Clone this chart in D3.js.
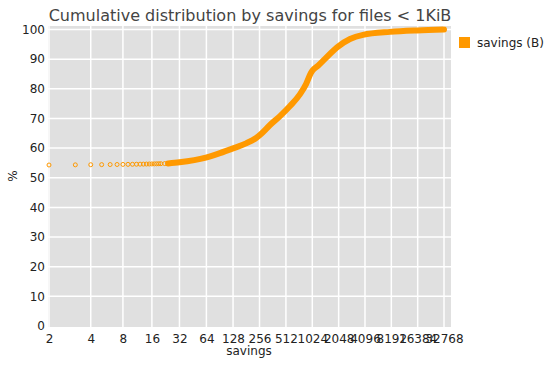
<!DOCTYPE html>
<html lang="en">
<head>
  <meta charset="UTF-8">
  <title>Cumulative distribution by savings</title>
  <style>
    body { margin: 0; background: #fff; }
    text { font-family: "DejaVu Sans", sans-serif; }
    .axis text { font-size: 12px; fill: #222; font-family: "DejaVu Sans", sans-serif; }
  </style>
</head>
<body>
  <div id="chart"></div>
  <script src="https://d3js.org/d3.v7.min.js"></script>
  <script>
    // Data
    // individual points at small savings (drawn as open circles)
    const sparseSavings = [2, 3, 4, 5, 6, 7, 8, 9, 10, 11, 12, 13, 14, 15, 16, 17, 18, 19, 20, 22, 24];
    const sparsePct = [54.3, 54.35, 54.4, 54.42, 54.45, 54.47, 54.5, 54.52, 54.54, 54.56, 54.58, 54.6, 54.62, 54.64, 54.66, 54.68, 54.7, 54.72, 54.74, 54.77, 54.8];
    // dense part where the circles merge into a band
    const curveSavings = [24, 32, 63, 91, 128, 180, 234, 274, 337, 438, 570, 742, 869, 990, 1030, 1190, 1430, 1962, 2763, 3889, 7918, 16130, 32768];
    const curvePct = [54.8, 55.2, 56.8, 58.3, 59.9, 61.6, 63.4, 65.1, 67.8, 70.8, 74.2, 78.2, 81.6, 85.4, 86.2, 87.8, 90.1, 94.0, 96.8, 98.2, 99.2, 99.7, 100];
    const xTicks = [2, 4, 8, 16, 32, 64, 128, 256, 512, 1024, 2048, 4096, 8192, 16384, 32768];
    const yTicks = [0, 10, 20, 30, 40, 50, 60, 70, 80, 90, 100];

    const W = 558, H = 365;
    const orange = "#ff9900";

    const svg = d3.select("#chart").append("svg")
      .attr("width", W).attr("height", H);

    // log scale of (savings - 1)
    const x = d3.scaleLog().domain([1, 32767]).range([49, 444]);
    const xPos = s => x(s - 1);
    const y = d3.scaleLinear().domain([0, 100]).range([326, 29.5]);

    // panel
    svg.append("rect")
      .attr("x", 48).attr("y", 26)
      .attr("width", 403).attr("height", 301)
      .attr("fill", "#e0e0e0");

    // grid
    svg.append("g").selectAll("line")
      .data(xTicks).join("line")
      .attr("x1", d => xPos(d)).attr("x2", d => xPos(d))
      .attr("y1", 26).attr("y2", 327)
      .attr("stroke", "#fff").attr("stroke-width", 1.5);
    svg.append("g").selectAll("line")
      .data(yTicks.slice(1)).join("line")
      .attr("x1", 48).attr("x2", 451)
      .attr("y1", d => y(d)).attr("y2", d => y(d))
      .attr("stroke", "#fff").attr("stroke-width", 1.5);

    // axes
    const gx = svg.append("g")
      .attr("class", "axis")
      .attr("transform", "translate(0,331)")
      .call(d3.axisBottom(x)
        .tickValues(xTicks.map(t => t - 1))
        .tickFormat(d => d + 1)
        .tickSize(0).tickPadding(3.5));
    gx.select(".domain").remove();

    const gy = svg.append("g")
      .attr("class", "axis")
      .attr("transform", "translate(45,0)")
      .call(d3.axisLeft(y).tickValues(yTicks).tickSize(0).tickPadding(0));
    gy.select(".domain").remove();
    svg.selectAll(".axis").attr("font-family", null).attr("font-size", null);

    // axis titles
    svg.append("text")
      .attr("x", 249).attr("y", 355)
      .attr("text-anchor", "middle")
      .attr("font-size", 12).attr("fill", "#222")
      .text("savings");
    svg.append("text")
      .attr("transform", "translate(17,176) rotate(-90)")
      .attr("text-anchor", "middle")
      .attr("font-size", 12).attr("fill", "#222")
      .text("%");

    // title
    svg.append("text")
      .attr("x", 250).attr("y", 21)
      .attr("text-anchor", "middle")
      .attr("font-size", 16).attr("fill", "#444")
      .text("Cumulative distribution by savings for files < 1KiB");

    // dense band
    const curve = curveSavings.map((s, i) => [s, curvePct[i]]);
    svg.append("path")
      .datum(curve)
      .attr("d", d3.line().x(d => xPos(d[0])).y(d => y(d[1])).curve(d3.curveMonotoneX))
      .attr("fill", "none")
      .attr("stroke", orange)
      .attr("stroke-width", 6)
      .attr("stroke-linecap", "round")
      .attr("stroke-linejoin", "round");

    // open circles
    svg.append("g").selectAll("circle")
      .data(sparseSavings.map((s, i) => [s, sparsePct[i]]))
      .join("circle")
      .attr("cx", d => xPos(d[0]))
      .attr("cy", d => y(d[1]))
      .attr("r", 2)
      .attr("fill", "none")
      .attr("stroke", orange)
      .attr("stroke-width", 1);

    // legend
    svg.append("rect")
      .attr("x", 459).attr("y", 37)
      .attr("width", 11).attr("height", 11)
      .attr("fill", orange);
    svg.append("text")
      .attr("x", 477).attr("y", 47)
      .attr("font-size", 12).attr("fill", "#222")
      .text("savings (B)");
  </script>
</body>
</html>
